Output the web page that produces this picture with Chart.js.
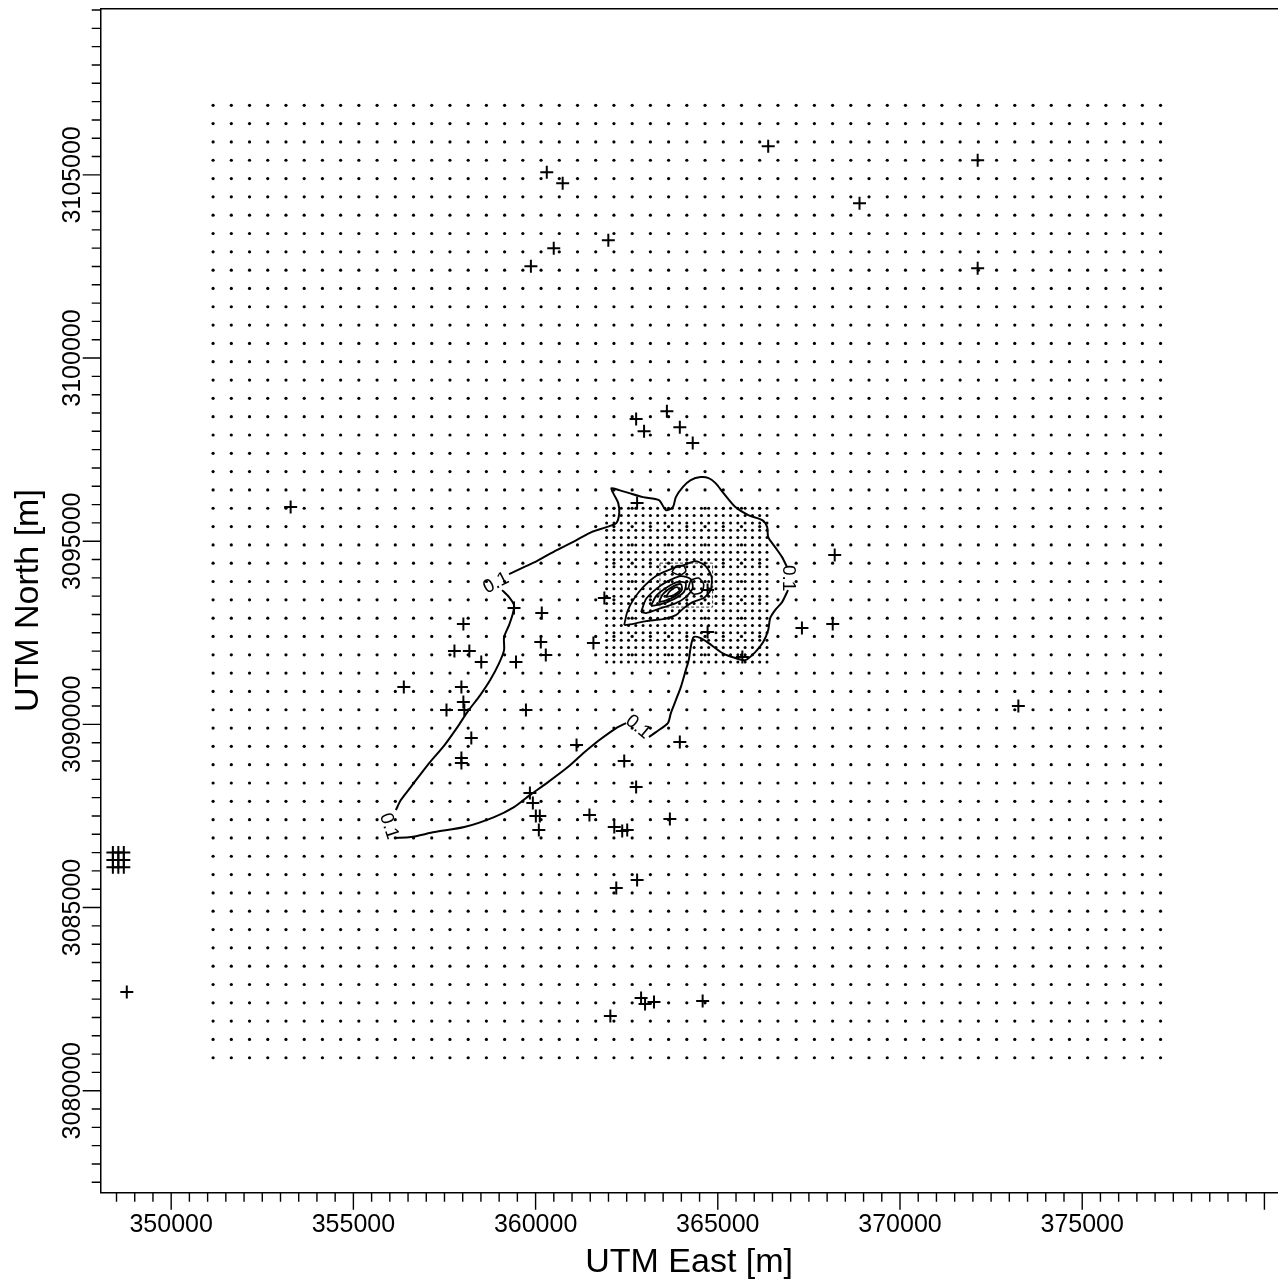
<!DOCTYPE html>
<html><head><meta charset="utf-8">
<script src="https://cdn.jsdelivr.net/npm/chart.js@4.4.1/dist/chart.umd.min.js"></script>
<style>html,body{margin:0;padding:0;background:#fff;}canvas{display:block;}</style>
</head><body>
<canvas id="c" width="1286" height="1287"></canvas>
<script>
// ---- tick labels ----
const xTicks = [350000, 355000, 360000, 365000, 370000, 375000, 380000];
const yTicks = [3080000, 3085000, 3090000, 3095000, 3100000, 3105000];

// ---- coarse receptor grid (500 m) ----
const coarseGridX = [351150,351650,352150,352650,353150,353650,354150,354650,355150,355650,356150,356650,357150,357650,358150,358650,359150,359650,360150,360650,361150,361650,362150,362650,363150,363650,364150,364650,365150,365650,366150,366650,367150,367650,368150,368650,369150,369650,370150,370650,371150,371650,372150,372650,373150,373650,374150,374650,375150,375650,376150,376650,377150];
const coarseGridY = [3080900,3081400,3081900,3082400,3082900,3083400,3083900,3084400,3084900,3085400,3085900,3086400,3086900,3087400,3087900,3088400,3088900,3089400,3089900,3090400,3090900,3091400,3091900,3092400,3092900,3093400,3093900,3094400,3094900,3095400,3095900,3096400,3096900,3097400,3097900,3098400,3098900,3099400,3099900,3100400,3100900,3101400,3101900,3102400,3102900,3103400,3103900,3104400,3104900,3105400,3105900,3106400,3106900];

// ---- fine receptor grid (200 m) ----
const fineGridX = [361950,362150,362350,362550,362750,362950,363150,363350,363550,363750,363950,364150,364350,364550,364750,364950,365150,365350,365550,365750,365950,366150,366350];
const fineGridY = [3091700,3091900,3092100,3092300,3092500,3092700,3092900,3093100,3093300,3093500,3093700,3093900,3094100,3094300,3094500,3094700,3094900,3095100,3095300,3095500,3095700,3095900];

// ---- discrete receptors (+) ----
const receptorX = [360307,360743,360498,359871,361996,366383,372131,368889,372131,353278,362759,362977,363603,363958,364312,362786,368208,367309,368154,373248,365674,361887,364720,361587,364720,359408,360170,358018,360143,360280,357773,358182,358509,359462,356384,357964,358018,357555,358045,359735,358236,357964,357964,361124,362432,362759,359844,359925,360007,360116,360089,361478,362159,362377,362514,363685,363958,362214,362786,362895,363004,363249,362051,364584,348782,348400,348550,348700,348400,348550,348700,348400,348550,348700];
const receptorY = [3105074,3104774,3102999,3102509,3103218,3105784,3105401,3104228,3102454,3095931,3098333,3098005,3098551,3098114,3097678,3096040,3094621,3092628,3092737,3090500,3091837,3093447,3093666,3092219,3092519,3093174,3093038,3092737,3092246,3091892,3092001,3092001,3091700,3091700,3091018,3091018,3090609,3090391,3090391,3090391,3089626,3089080,3088944,3089435,3088998,3088289,3088125,3087852,3087497,3087497,3087115,3087525,3087197,3087088,3087115,3087416,3089517,3085532,3085751,3082530,3082366,3082421,3082039,3082448,3082694,3086100,3086100,3086100,3086300,3086300,3086300,3086500,3086500,3086500];

// ---- 0.1 contour (null = gap for label) ----
const contour01X = [356166,356302,356574,357037,357501,357855,358127,358481,358754,358999,359135,359135,359272,359380,359408,359272,359081,359170,
 359272,359680,360034,360579,361124,361533,361942,362214,362296,362268,362159,362078,362296,362568,362950,363385,363576,363767,363849,364039,364257,364530,364748,364938,365156,365483,365837,366219,366355,366383,366573,366764,366900,366910,
 366927,366764,366573,366437,366383,366246,366028,365756,365483,365129,364748,364530,364339,364257,364203,364121,363985,363849,363712,363631,363304,363113,362800,
 362486,362214,361751,361315,360852,360307,359844,359408,358863,358045,357228,356574,356138];
const contour01Y = [3087661,3087934,3088289,3088889,3089435,3089926,3090336,3090800,3091209,3091673,3092028,3092383,3092710,3093038,3093256,3093475,3093666,null,
 3094102,3094293,3094457,3094757,3095030,3095249,3095385,3095494,3095767,3096040,3096258,3096449,3096395,3096313,3096204,3096122,3095849,3095931,3096204,3096477,3096668,3096750,3096722,3096586,3096313,3095931,3095712,3095576,3095385,3095112,3094839,3094566,3094293,null,
 3093666,3093338,3093120,3092901,3092574,3092246,3091973,3091755,3091810,3091946,3092219,3092356,3092383,3092110,3091755,3091482,3091018,3090663,3090309,3090036,3089790,3089653,null,
 3090036,3089899,3089572,3089217,3088807,3088398,3088070,3087743,3087470,3087197,3087061,3086924,3086897];

// ---- inner contours ----
const innerAX = [362432,362514,362677,362950,363304,363712,364067,364394,364666,364830,364802,364612,364312,364067,363849,363494,363031,362650,362432];
const innerAY = [3092710,3093065,3093393,3093747,3094048,3094239,3094348,3094457,3094321,3094020,3093666,3093447,3093338,3093174,3092983,3092874,3092819,3092737,3092710];
const innerBX = [362895,363031,363304,363631,363985,364257,364312,364121,363849,363440,363031,362895];
const innerBY = [3093065,3093420,3093693,3093911,3094048,3093966,3093720,3093475,3093311,3093174,3093038,3093065];
const innerCX = [363168,363304,363576,363876,364121,364067,363794,363440,363168];
const innerCY = [3093229,3093502,3093720,3093884,3093857,3093611,3093420,3093283,3093229];
const innerDX = [363385,363494,363740,363985,364012,363794,363522,363385];
const innerDY = [3093338,3093557,3093747,3093829,3093666,3093475,3093365,3093338];
const innerEX = [363576,363685,363876,363958,363794,363576];
const innerEY = [3093475,3093638,3093747,3093666,3093529,3093475];
const lobeNX = [363740,363849,364067,364121,363958,363740];
const lobeNY = [3094157,3094321,3094321,3094184,3094075,3094157];
const lobeEX = [364257,364475,364612,364557,364339,364203,364257];
const lobeEY = [3093939,3093993,3093829,3093611,3093557,3093720,3093939];

// ---- boundary box ----
const boxX = [363413,364857,364857,363413,363413];
const boxY = [3094402,3094402,3093202,3093202,3094402];

// ---- contour labels ----
const contourLabelX = [358917, 366927, 362813, 355975];
const contourLabelY = [3093857, 3093993, 3089926, 3087224];
const contourLabelText = ['0.1', '0.1', '0.1', '0.1'];
const contourLabelAngle = [-27, 90, 40, 72];

const FONT = "'Liberation Sans', Arial, sans-serif";
const pts = (xs, ys) => xs.map((x, i) => ({x: x, y: ys[i]}));
const gridPts = (xs, ys) => { const o = []; ys.forEach(y => xs.forEach(x => o.push({x: x, y: y}))); return o; };

const lineDS = (label, xs, ys, w) => ({
  label: label, data: pts(xs, ys), showLine: true, spanGaps: false,
  borderColor: '#000', borderWidth: w, pointRadius: 0, pointHoverRadius: 0,
  fill: false, tension: 0.25
});

const minorTicks = {
  id: 'minorTicks',
  afterDraw(chart) {
    const ctx = chart.ctx, xs = chart.scales.x, ys = chart.scales.y;
    ctx.save();
    ctx.strokeStyle = '#000';
    ctx.lineWidth = 1.4;
    ctx.beginPath();
    for (let v = Math.ceil(xs.min / 500) * 500; v <= xs.max; v += 500) {
      const p = xs.getPixelForValue(v);
      const len = (v % 5000 === 0) ? 17 : 9;
      ctx.moveTo(p, xs.top); ctx.lineTo(p, xs.top + len);
    }
    for (let v = Math.ceil(ys.min / 500) * 500; v <= ys.max; v += 500) {
      const p = ys.getPixelForValue(v);
      const len = (v % 5000 === 0) ? 18 : 9;
      ctx.moveTo(ys.right, p); ctx.lineTo(ys.right - len, p);
    }
    ctx.stroke();
    // contour labels
    ctx.fillStyle = '#000';
    ctx.font = "19px " + FONT;
    ctx.textAlign = 'center';
    ctx.textBaseline = 'middle';
    contourLabelText.forEach((t, i) => {
      const px = xs.getPixelForValue(contourLabelX[i]);
      const py = ys.getPixelForValue(contourLabelY[i]);
      ctx.save();
      ctx.translate(px, py);
      ctx.rotate(contourLabelAngle[i] * Math.PI / 180);
      ctx.fillText(t, 0, 0);
      ctx.restore();
    });
    ctx.restore();
  }
};

new Chart(document.getElementById('c'), {
  type: 'scatter',
  data: {
    datasets: [
      {label: 'coarse grid', data: gridPts(coarseGridX, coarseGridY), pointRadius: 1.6, pointBackgroundColor: '#000', pointBorderWidth: 0, pointHoverRadius: 0},
      {label: 'fine grid', data: gridPts(fineGridX, fineGridY), pointRadius: 1.5, pointBackgroundColor: '#000', pointBorderWidth: 0, pointHoverRadius: 0},
      lineDS('0.1', contour01X, contour01Y, 2),
      lineDS('A', innerAX, innerAY, 1.8),
      lineDS('B', innerBX, innerBY, 1.8),
      lineDS('C', innerCX, innerCY, 1.8),
      lineDS('D', innerDX, innerDY, 1.8),
      lineDS('E', innerEX, innerEY, 1.8),
      lineDS('N', lobeNX, lobeNY, 1.6),
      lineDS('Eb', lobeEX, lobeEY, 1.6),
      Object.assign(lineDS('box', boxX, boxY, 1), {tension: 0, borderColor: '#333', borderDash: [3, 2]}),
      {label: 'receptors', data: pts(receptorX, receptorY), pointStyle: 'cross', pointRadius: 6.5, pointBorderColor: '#000', pointBorderWidth: 2, pointBackgroundColor: '#000', pointHoverRadius: 6.5}
    ]
  },
  options: {
    responsive: false,
    animation: false,
    events: [],
    devicePixelRatio: 1,
    layout: {padding: {top: 8.3, left: 0, right: 0, bottom: 0}},
    plugins: {legend: {display: false}, tooltip: {enabled: false}},
    scales: {
      x: {
        type: 'linear', position: 'bottom', min: 348066, max: 380359,
        afterBuildTicks: s => { s.ticks = xTicks.map(v => ({value: v})); },
        afterFit: s => { s.height = 94.3; s.paddingLeft = 0; s.paddingRight = 0; },
        grid: {display: false, drawTicks: false},
        border: {display: true, color: '#000', width: 1.5},
        ticks: {autoSkip: false, minRotation: 0, maxRotation: 0, padding: 17, color: '#000',
          font: {family: FONT, size: 25},
          callback: v => (v === 380000 ? '' : String(v))},
        title: {display: true, text: 'UTM East [m]', color: '#000', font: {family: FONT, size: 34}, padding: {top: 0, bottom: 4}}
      },
      x2: {
        type: 'linear', position: 'top', min: 348066, max: 380359,
        afterFit: s => { s.height = 0; s.paddingLeft = 0; s.paddingRight = 0; },
        grid: {display: false, drawTicks: false},
        border: {display: true, color: '#000', width: 1.5},
        ticks: {display: false}
      },
      y: {
        type: 'linear', position: 'left', min: 3077216, max: 3109542,
        afterBuildTicks: s => { s.ticks = yTicks.map(v => ({value: v})); },
        afterFit: s => { s.width = 100.7; s.paddingTop = 0; s.paddingBottom = 0; },
        grid: {display: false, drawTicks: false},
        border: {display: true, color: '#000', width: 1.5},
        ticks: {autoSkip: false, minRotation: 90, maxRotation: 90, crossAlign: 'center', padding: -21, color: '#000',
          font: {family: FONT, size: 25},
          callback: v => String(v)},
        title: {display: true, text: 'UTM North [m]', color: '#000', font: {family: FONT, size: 34}, padding: {top: 8, bottom: 0}}
      }
    }
  },
  plugins: [minorTicks]
});
</script>
</body></html>
